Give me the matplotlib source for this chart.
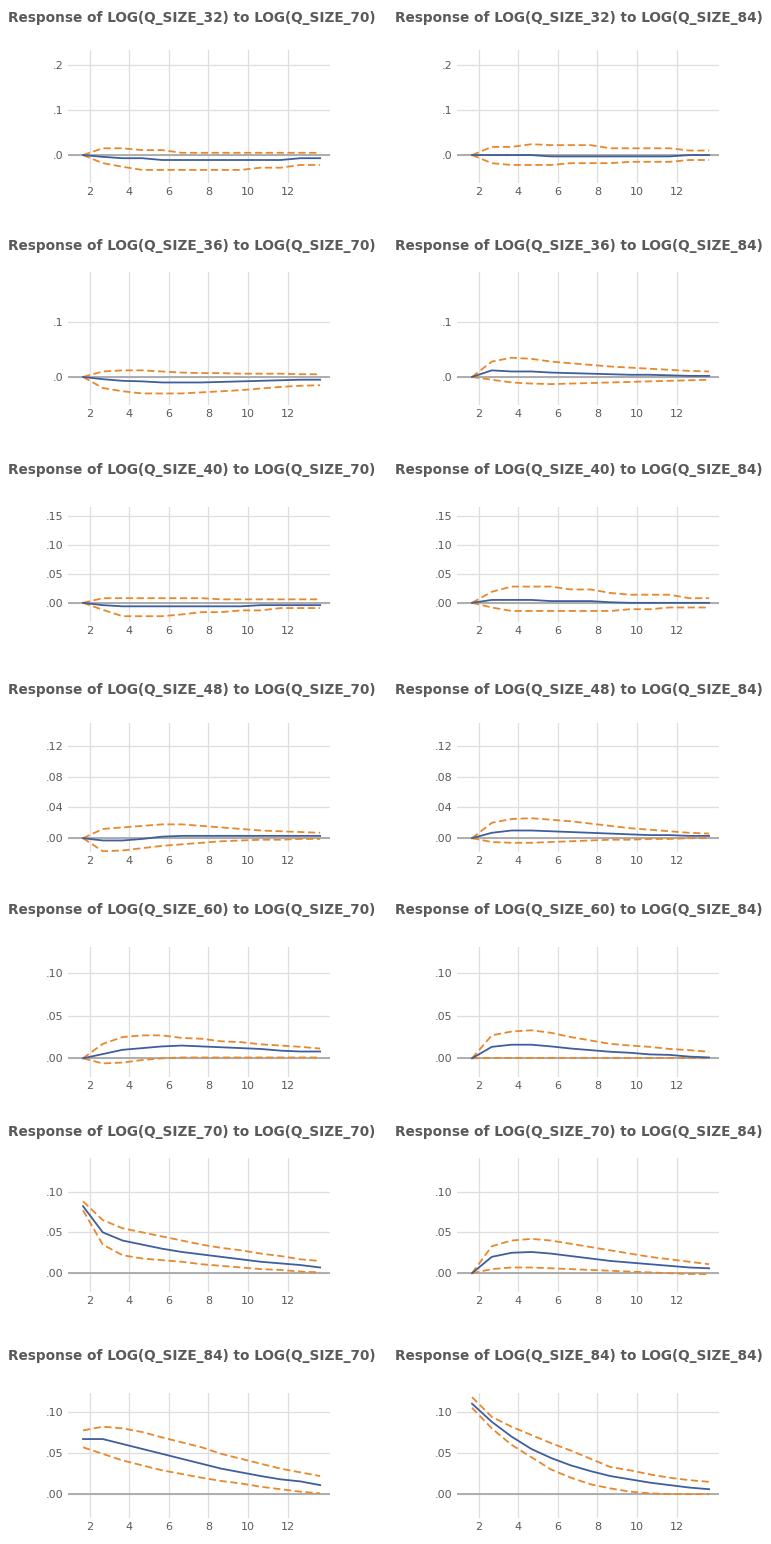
import numpy as np
import matplotlib.pyplot as plt

# periods of the impulse response
periods = np.arange(1, 14)
xtick_labels = [2, 4, 6, 8, 10, 12]

responses = ['32', '36', '40', '48', '60', '70', '84']
shocks = ['70', '84']

# response (blue) and +/- 2 S.E. bands (orange dashed)
r_32_70 = [0, -0.004, -0.007, -0.007, -0.011, -0.011, -0.011, -0.011, -0.011, -0.011, -0.011, -0.007, -0.007]
u_32_70 = [0, 0.015, 0.015, 0.011, 0.011, 0.005, 0.005, 0.005, 0.005, 0.005, 0.005, 0.005, 0.005]
l_32_70 = [0, -0.018, -0.026, -0.033, -0.033, -0.033, -0.033, -0.033, -0.033, -0.028, -0.028, -0.022, -0.022]

r_32_84 = [0, 0, 0, 0, -0.003, -0.003, -0.003, -0.003, -0.003, -0.003, -0.003, 0, 0]
u_32_84 = [0, 0.018, 0.018, 0.024, 0.022, 0.022, 0.022, 0.015, 0.015, 0.015, 0.015, 0.01, 0.01]
l_32_84 = [0, -0.018, -0.022, -0.022, -0.022, -0.018, -0.018, -0.018, -0.015, -0.015, -0.015, -0.011, -0.011]

r_36_70 = [0, -0.004, -0.007, -0.008, -0.01, -0.01, -0.01, -0.009, -0.008, -0.007, -0.006, -0.005, -0.005]
u_36_70 = [0, 0.01, 0.012, 0.012, 0.01, 0.008, 0.007, 0.007, 0.006, 0.006, 0.006, 0.005, 0.005]
l_36_70 = [0, -0.02, -0.026, -0.03, -0.03, -0.03, -0.028, -0.026, -0.024, -0.021, -0.018, -0.016, -0.015]

r_36_84 = [0, 0.012, 0.01, 0.01, 0.008, 0.007, 0.006, 0.005, 0.004, 0.004, 0.003, 0.002, 0.002]
u_36_84 = [0, 0.028, 0.035, 0.033, 0.028, 0.025, 0.022, 0.019, 0.017, 0.015, 0.013, 0.011, 0.01]
l_36_84 = [0, -0.005, -0.01, -0.012, -0.013, -0.012, -0.011, -0.01, -0.009, -0.008, -0.007, -0.006, -0.005]

r_40_70 = [0, -0.004, -0.006, -0.006, -0.006, -0.006, -0.006, -0.006, -0.006, -0.004, -0.004, -0.004, -0.004]
u_40_70 = [0, 0.008, 0.008, 0.008, 0.008, 0.008, 0.008, 0.006, 0.006, 0.006, 0.006, 0.006, 0.006]
l_40_70 = [0, -0.012, -0.023, -0.023, -0.023, -0.02, -0.016, -0.016, -0.013, -0.013, -0.009, -0.009, -0.009]

r_40_84 = [0, 0.005, 0.005, 0.005, 0.003, 0.003, 0.003, 0.001, 0, 0, 0, 0, 0]
u_40_84 = [0, 0.019, 0.028, 0.028, 0.028, 0.023, 0.023, 0.017, 0.014, 0.014, 0.014, 0.008, 0.008]
l_40_84 = [0, -0.008, -0.014, -0.014, -0.014, -0.014, -0.014, -0.014, -0.011, -0.011, -0.008, -0.008, -0.008]

r_48_70 = [0, -0.003, -0.003, -0.001, 0.002, 0.003, 0.003, 0.003, 0.003, 0.003, 0.003, 0.003, 0.003]
u_48_70 = [0, 0.012, 0.014, 0.016, 0.018, 0.018, 0.016, 0.014, 0.012, 0.01, 0.009, 0.008, 0.007]
l_48_70 = [0, -0.017, -0.016, -0.013, -0.01, -0.008, -0.006, -0.004, -0.003, -0.002, -0.002, -0.001, -0.001]

r_48_84 = [0, 0.007, 0.01, 0.01, 0.009, 0.008, 0.007, 0.006, 0.005, 0.004, 0.004, 0.003, 0.003]
u_48_84 = [0, 0.02, 0.025, 0.026, 0.024, 0.022, 0.019, 0.016, 0.013, 0.011, 0.009, 0.007, 0.006]
l_48_84 = [0, -0.005, -0.006, -0.006, -0.005, -0.004, -0.003, -0.002, -0.002, -0.001, -0.001, 0, 0]

r_60_70 = [0, 0.005, 0.01, 0.012, 0.014, 0.015, 0.014, 0.013, 0.012, 0.011, 0.009, 0.008, 0.008]
u_60_70 = [0, 0.017, 0.025, 0.027, 0.027, 0.024, 0.023, 0.02, 0.019, 0.0165, 0.015, 0.0135, 0.0115]
l_60_70 = [0, -0.006, -0.005, -0.002, 0, 0.001, 0.001, 0.001, 0.001, 0.001, 0.001, 0.001, 0.001]

r_60_84 = [0, 0.0135, 0.016, 0.016, 0.014, 0.0115, 0.0096, 0.0077, 0.0065, 0.0046, 0.004, 0.002, 0.001]
u_60_84 = [0, 0.027, 0.0315, 0.033, 0.03, 0.025, 0.021, 0.017, 0.015, 0.0135, 0.011, 0.0096, 0.0077]
l_60_84 = [0, 0.0005, 0.0005, 0.0005, 0.0005, 0.0005, 0.0005, 0.0005, 0.0005, 0.0005, 0.0005, 0.0005, 0]

r_70_70 = [0.082, 0.05, 0.04, 0.035, 0.03, 0.026, 0.023, 0.02, 0.017, 0.014, 0.012, 0.01, 0.007]
u_70_70 = [0.088, 0.065, 0.055, 0.05, 0.045, 0.04, 0.035, 0.031, 0.028, 0.024, 0.021, 0.017, 0.015]
l_70_70 = [0.077, 0.035, 0.022, 0.018, 0.016, 0.014, 0.011, 0.009, 0.007, 0.005, 0.004, 0.002, 0.001]

r_70_84 = [0, 0.02, 0.025, 0.026, 0.024, 0.021, 0.018, 0.015, 0.013, 0.011, 0.009, 0.007, 0.006]
u_70_84 = [0, 0.033, 0.04, 0.042, 0.04, 0.036, 0.032, 0.028, 0.024, 0.02, 0.017, 0.014, 0.011]
l_70_84 = [0, 0.005, 0.007, 0.007, 0.006, 0.005, 0.004, 0.003, 0.002, 0.001, 0, -0.001, -0.001]

r_84_70 = [0.067, 0.067, 0.061, 0.055, 0.049, 0.043, 0.037, 0.031, 0.0265, 0.022, 0.018, 0.0155, 0.011]
u_84_70 = [0.0775, 0.082, 0.08, 0.0755, 0.069, 0.063, 0.057, 0.049, 0.043, 0.037, 0.031, 0.0265, 0.022]
l_84_70 = [0.057, 0.049, 0.041, 0.035, 0.029, 0.0245, 0.02, 0.016, 0.013, 0.009, 0.006, 0.003, 0.001]

r_84_84 = [0.11, 0.088, 0.07, 0.055, 0.044, 0.035, 0.028, 0.022, 0.018, 0.014, 0.011, 0.008, 0.006]
u_84_84 = [0.118, 0.094, 0.082, 0.072, 0.062, 0.053, 0.043, 0.033, 0.029, 0.024, 0.02, 0.017, 0.015]
l_84_84 = [0.105, 0.08, 0.06, 0.045, 0.03, 0.02, 0.012, 0.007, 0.003, 0.001, 0, 0, 0]

# y axis per row: limits, ticks, decimals
row_ylim = [(-0.062, 0.233), (-0.051, 0.191), (-0.033, 0.165), (-0.018, 0.150),
            (-0.022, 0.131), (-0.023, 0.141), (-0.029, 0.123)]
row_yticks = [[0, 0.1, 0.2], [0, 0.1], [0, 0.05, 0.10, 0.15], [0, 0.04, 0.08, 0.12],
              [0, 0.05, 0.10], [0, 0.05, 0.10], [0, 0.05, 0.10]]
row_dec = [1, 1, 2, 2, 2, 2, 2]

# layout in pixels
W, H = 771, 1544
row_top = [50, 272, 507, 723, 947, 1158, 1393]
row_bot = [183, 405, 622, 852, 1077, 1292, 1518]
title_y = [18, 246, 470, 690, 910, 1132, 1356]
col_left = [68, 457]
col_width = 262
title_x = [8, 395]

blue = '#3f5e9c'
orange = '#e8882c'
grid_c = '#dedede'
zero_c = '#a8a8a8'
text_c = '#5a5a5a'

fig = plt.figure(figsize=(W / 100, H / 100), dpi=100)

data = globals()
for i, rv in enumerate(responses):
    for j, sv in enumerate(shocks):
        r = data['r_%s_%s' % (rv, sv)]
        u = data['u_%s_%s' % (rv, sv)]
        lo = data['l_%s_%s' % (rv, sv)]
        top, bot = row_top[i], row_bot[i]
        ax = fig.add_axes([col_left[j] / W, 1 - bot / H, col_width / W, (bot - top) / H])
        ax.set_xlim(0.24, 13.5)
        ax.set_ylim(*row_ylim[i])
        # gridlines
        ax.set_xticks([t - 0.65 for t in xtick_labels])
        ax.set_xticklabels([str(t) for t in xtick_labels])
        ax.set_yticks(row_yticks[i])
        ax.set_yticklabels([('%.*f' % (row_dec[i], v)).lstrip('0') for v in row_yticks[i]])
        ax.grid(True, color=grid_c, lw=0.9)
        ax.set_axisbelow(True)
        ax.axhline(0, color=zero_c, lw=1.3, zorder=1)
        ax.plot(periods, u, color=orange, lw=1.3, ls=(0, (4, 2)), zorder=3)
        ax.plot(periods, lo, color=orange, lw=1.3, ls=(0, (4, 2)), zorder=3)
        ax.plot(periods, r, color=blue, lw=1.3, zorder=4)
        for s in ax.spines.values():
            s.set_visible(False)
        ax.tick_params(length=0, labelsize=8, colors=text_c, pad=3)
        fig.text(title_x[j] / W, 1 - title_y[i] / H,
                 'Response of LOG(Q_SIZE_%s) to LOG(Q_SIZE_%s)' % (rv, sv),
                 ha='left', va='center', fontsize=9.8, color=text_c, fontweight='bold')

fig.savefig('out.png', dpi=100)
